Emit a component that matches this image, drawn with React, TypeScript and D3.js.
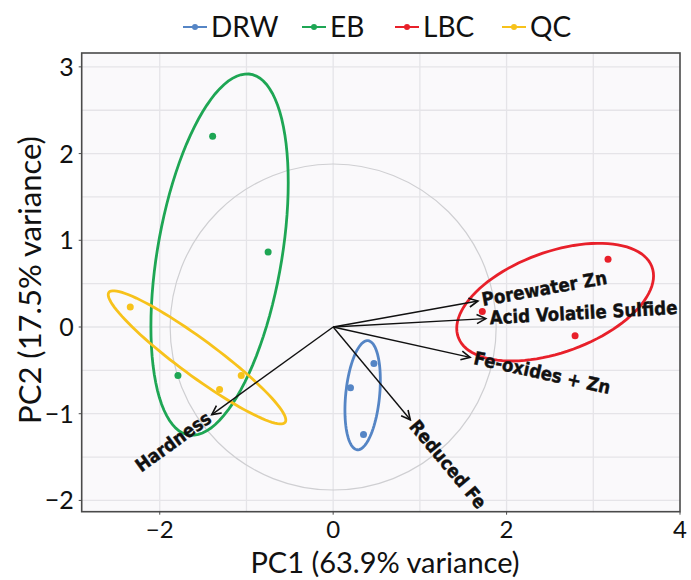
import * as d3 from 'd3'

// group scores (PC1, PC2)
const groups = ['DRW', 'EB', 'LBC', 'QC']
const groupColors = ['#5585c5', '#1ea654', '#e8202a', '#f7c21b']
const pc1DRW = [0.47, 0.2, 0.35]
const pc2DRW = [-0.42, -0.7, -1.24]
const pc1EB = [-1.39, -0.75, -1.79]
const pc2EB = [2.2, 0.865, -0.56]
const pc1LBC = [3.17, 1.72, 2.79]
const pc2LBC = [0.78, 0.18, -0.1]
const pc1QC = [-2.34, -1.06, -1.31]
const pc2QC = [0.23, -0.56, -0.72]

// loadings (arrow tips)
const varNames = ['Porewater Zn', 'Acid Volatile Sulfide', 'Fe-oxides + Zn', 'Reduced Fe', 'Hardness']
const varPC1 = [1.67, 1.76, 1.58, 0.89, -1.4]
const varPC2 = [0.3, 0.097, -0.35, -1.07, -1.01]

const xTicks = [-2, 0, 2, 4]
const yTicks = [-2, -1, 0, 1, 2, 3]
const xGrid = [-2, -1, 0, 1, 2, 3]
const yGrid = [-2, -1.5, -1, -0.5, 0, 0.5, 1, 1.5, 2, 2.5, 3]
const circleRadius = 1.88
const ellipseProb = 0.68

const W = 691
const H = 580
const font = 'Lato, Calibri, sans-serif'
const labelFont = '"DejaVu Sans Condensed", "DejaVu Sans", sans-serif'

const fmt = (v: number) => (v < 0 ? '\u2212' + Math.abs(v) : String(v))

function ellipsePath(xs: number[], ys: number[], x: d3.ScaleLinear<number, number>, y: d3.ScaleLinear<number, number>) {
  const n = xs.length
  const mx = d3.mean(xs)!
  const my = d3.mean(ys)!
  let sxx = 0, syy = 0, sxy = 0
  for (let i = 0; i < n; i++) {
    sxx += (xs[i] - mx) ** 2
    syy += (ys[i] - my) ** 2
    sxy += (xs[i] - mx) * (ys[i] - my)
  }
  sxx /= n - 1; syy /= n - 1; sxy /= n - 1
  const a = Math.sqrt(sxx)
  const b = sxy / a
  const c = Math.sqrt(Math.max(syy - b * b, 0))
  const r = Math.sqrt(-2 * Math.log(1 - ellipseProb))
  const pts: [number, number][] = d3.range(0, 101).map(i => {
    const t = (i / 100) * 2 * Math.PI
    const ex = mx + r * a * Math.cos(t)
    const ey = my + r * (b * Math.cos(t) + c * Math.sin(t))
    return [x(ex), y(ey)]
  })
  return d3.line()(pts) + 'Z'
}

export default function App() {
  const x = d3.scaleLinear().domain([-2.9, 4.0]).range([81.7, 680])
  const y = d3.scaleLinear().domain([-2.13, 3.16]).range([511.7, 53])
  const [x0, x1] = x.range()
  const [y0, y1] = y.range()

  const data = [
    [pc1DRW, pc2DRW],
    [pc1EB, pc2EB],
    [pc1LBC, pc2LBC],
    [pc1QC, pc2QC]
  ]

  const legendX = [183, 302, 395, 502]

  return (
    <svg width={W} height={H} style={{ position: 'absolute', left: 0, top: 0, background: '#fff' }}>
      <defs>
        <marker id="arr" markerUnits="userSpaceOnUse" markerWidth={12} markerHeight={12}
          viewBox="0 0 12 12" refX={10} refY={6} orient="auto">
          <path d="M1,1.5 L10,6 L1,10.5" fill="none" stroke="#111" strokeWidth={1.6} />
        </marker>
        <clipPath id="panel">
          <rect x={x0} y={y1} width={x1 - x0} height={y0 - y1} />
        </clipPath>
      </defs>

      {/* legend */}
      {groups.map((g, i) => (
        <g key={g} transform={`translate(${legendX[i]},27)`}>
          <line x1={0} x2={24} stroke={groupColors[i]} strokeWidth={2} />
          <circle cx={12} r={3} fill={groupColors[i]} />
          <text x={28} dy="0.36em" fontFamily={font} fontSize={28} fill="#111">{g}</text>
        </g>
      ))}

      {/* panel */}
      <rect x={x0} y={y1} width={x1 - x0} height={y0 - y1} fill="#faf9fb" />
      {xGrid.map(v => (
        <line key={'gx' + v} x1={x(v)} x2={x(v)} y1={y1} y2={y0} stroke="#e5e4e8" strokeWidth={1.3} />
      ))}
      {yGrid.map(v => (
        <line key={'gy' + v} x1={x0} x2={x1} y1={y(v)} y2={y(v)} stroke="#e5e4e8" strokeWidth={1.3} />
      ))}

      <g clipPath="url(#panel)">
        <circle cx={x(0)} cy={y(0)} r={x(circleRadius) - x(0)} fill="none" stroke="#cfcfd2" strokeWidth={1.2} />

        {data.map(([xs, ys], i) => (
          <g key={groups[i]}>
            {xs.map((v, j) => (
              <circle key={j} cx={x(v)} cy={y(ys[j])} r={3.5} fill={groupColors[i]} />
            ))}
            <path d={ellipsePath(xs, ys, x, y)} fill="none" stroke={groupColors[i]} strokeWidth={2.8} />
          </g>
        ))}

        {varNames.map((name, i) => {
          const tx = x(varPC1[i])
          const ty = y(varPC2[i])
          const ang = (Math.atan2(ty - y(0), tx - x(0)) * 180) / Math.PI
          const left = varPC1[i] < 0
          const rot = left ? ang + 180 : ang
          return (
            <g key={name}>
              <line x1={x(0)} y1={y(0)} x2={tx} y2={ty} stroke="#111" strokeWidth={1.4} markerEnd="url(#arr)" />
              <text
                transform={`translate(${tx},${ty}) rotate(${rot})`}
                x={left ? -3 : 4}
                dy="0.32em"
                textAnchor={left ? 'end' : 'start'}
                fontFamily={labelFont}
                fontWeight="bold"
                fontSize={18.5}
                fill="#111"
                stroke="#111"
                strokeWidth={0.4}
              >{name}</text>
            </g>
          )
        })}
      </g>

      <rect x={x0} y={y1} width={x1 - x0} height={y0 - y1} fill="none" stroke="#4a4a4a" strokeWidth={1.6} />

      {/* axes */}
      {yTicks.map(v => (
        <g key={'ty' + v}>
          <line x1={x0 - 3} x2={x0} y1={y(v)} y2={y(v)} stroke="#4a4a4a" />
          <text x={x0 - 8} y={y(v)} dy="0.36em" textAnchor="end" fontFamily={font} fontSize={25} fill="#111">{fmt(v)}</text>
        </g>
      ))}
      {xTicks.map(v => (
        <g key={'tx' + v}>
          <line x1={x(v)} x2={x(v)} y1={y0} y2={y0 + 3} stroke="#4a4a4a" />
          <text x={x(v)} y={529} dy="0.36em" textAnchor="middle" fontFamily={font} fontSize={24} fill="#111">{fmt(v)}</text>
        </g>
      ))}
      <text x={385} y={563} dy="0.36em" textAnchor="middle" fontFamily={font} fontSize={29} fill="#111">PC1 (63.9% variance)</text>
      <text transform="translate(30,280) rotate(-90)" dy="0.36em" textAnchor="middle" fontFamily={font} fontSize={31} fill="#111">PC2 (17.5% variance)</text>
    </svg>
  )
}
